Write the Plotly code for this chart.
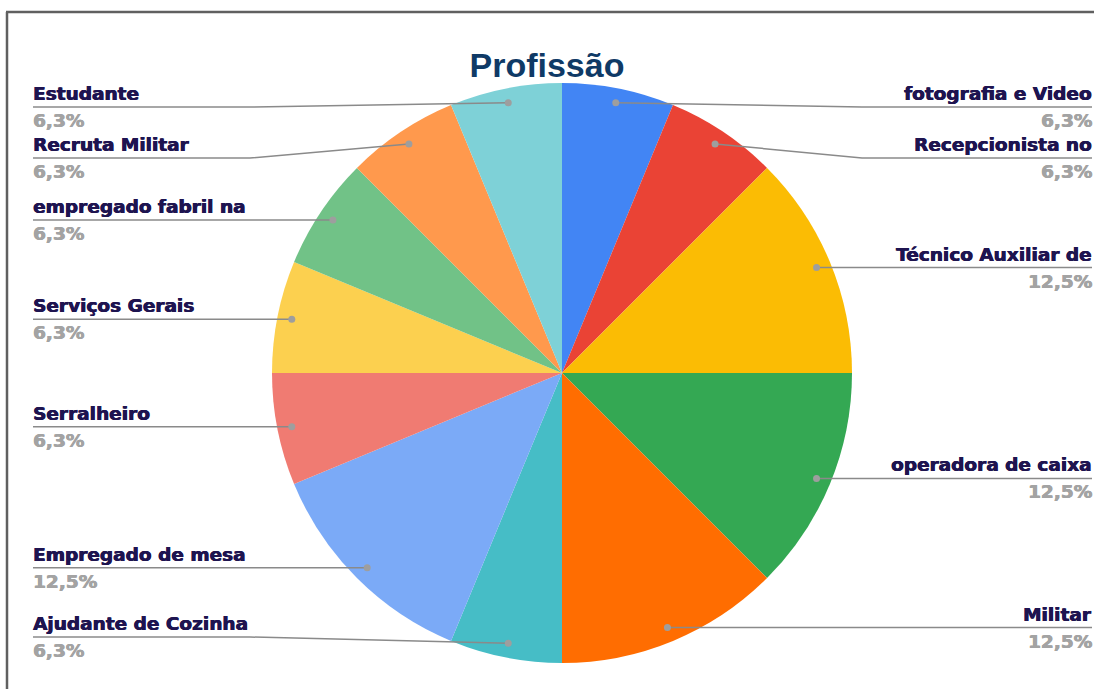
import math

import plotly.graph_objects as go

# data
labels = [
    "fotografia e Video", "Recepcionista no", "Técnico Auxiliar de",
    "operadora de caixa", "Militar", "Ajudante de Cozinha",
    "Empregado de mesa", "Serralheiro", "Serviços Gerais",
    "empregado fabril na", "Recruta Militar", "Estudante",
]
counts = [1, 1, 2, 2, 2, 1, 2, 1, 1, 1, 1, 1]
colors = [
    "#4285F4", "#EA4335", "#FBBC04", "#34A853", "#FF6D01", "#46BDC6",
    "#7BAAF7", "#F07B72", "#FCD04F", "#71C287", "#FF994D", "#7ED1D7",
]

W, H = 1094, 689
CX, CY, R = 562, 373, 290
LABEL_FONT = "DejaVu Sans"
LABEL_SIZE = 18.5
NAME_COLOR = "#1e1450"
PCT_COLOR = "#a3a3a3"
LINE_COLOR = "#8a8a8a"


def px(x):
    return x / W


def py(y):
    return 1 - y / H


def pct_text(v, total):
    p = math.floor(v / total * 1000 + 0.5) / 10
    return f"{p:.1f}".replace(".", ",") + "%"


def spread(items, gap=51, top=107, bottom=637):
    # items: list of [dot_y, idx]; returns dict idx -> line y
    items = sorted(items)
    ys = []
    for dy, _ in items:
        y = max(dy, top)
        if ys:
            y = max(y, ys[-1] + gap)
        ys.append(y)
    for i in range(len(ys) - 1, -1, -1):
        lim = bottom if i == len(ys) - 1 else ys[i + 1] - gap
        ys[i] = min(ys[i], lim)
    return {idx: y for (_, idx), y in zip(items, ys)}


def heavy(color):
    # thicken the bold glyphs a little, like the heavy face in the original
    return f"0.5px 0 0 {color}, -0.3px 0 0 {color}"


fig = go.Figure()
fig.add_trace(go.Pie(
    labels=labels, values=counts, sort=False, direction="clockwise", rotation=0,
    marker=dict(colors=colors, line=dict(width=0)),
    textinfo="none", hoverinfo="label+percent",
    domain=dict(x=[px(CX - R), px(CX + R)], y=[py(CY + R), py(CY - R)]),
))

total = sum(counts)
dots = []
cum = 0
for i, v in enumerate(counts):
    a = math.radians((cum + v / 2) / total * 360)
    cum += v
    dx = CX + 0.95 * R * math.sin(a)
    dy = CY - 0.95 * R * math.cos(a)
    dots.append((dx, dy, "right" if math.sin(a) > 0 else "left"))

left_y = spread([[d[1], i] for i, d in enumerate(dots) if d[2] == "left"])
right_y = spread([[d[1], i] for i, d in enumerate(dots) if d[2] == "right"])

shapes = []
annotations = []
for i, (dx, dy, side) in enumerate(dots):
    ly = left_y[i] if side == "left" else right_y[i]
    if side == "left":
        x_end, x_txt, elbow, anchor = 33, 31, CX - 312, "left"
    else:
        x_end, x_txt, elbow, anchor = 1092, 1094, CX + 300, "right"
    shapes.append(dict(
        type="path", xref="paper", yref="paper",
        path=f"M {px(x_end)},{py(ly)} L {px(elbow)},{py(ly)} L {px(dx)},{py(dy)}",
        line=dict(color=LINE_COLOR, width=1.5),
    ))
    shapes.append(dict(
        type="circle", xref="paper", yref="paper",
        x0=px(dx - 3.5), x1=px(dx + 3.5), y0=py(dy + 3.5), y1=py(dy - 3.5),
        fillcolor="#9e9e9e", line=dict(width=0),
    ))
    annotations.append(dict(
        text=f"<b>{labels[i]}</b>", xref="paper", yref="paper",
        x=px(x_txt), y=py(ly - 1), xanchor=anchor, yanchor="bottom",
        showarrow=False,
        font=dict(family=LABEL_FONT, size=LABEL_SIZE, color=NAME_COLOR,
                  shadow=heavy(NAME_COLOR)),
    ))
    annotations.append(dict(
        text=f"<b>{pct_text(counts[i], total)}</b>", xref="paper", yref="paper",
        x=px(x_txt), y=py(ly + 1), xanchor=anchor, yanchor="top",
        showarrow=False,
        font=dict(family=LABEL_FONT, size=LABEL_SIZE, color=PCT_COLOR,
                  shadow=heavy(PCT_COLOR)),
    ))

# frame lines of the screenshot
shapes.append(dict(type="line", xref="paper", yref="paper",
                   x0=px(6), x1=1, y0=py(12), y1=py(12),
                   line=dict(color="#606060", width=2.5)))
shapes.append(dict(type="line", xref="paper", yref="paper",
                   x0=px(7), x1=px(7), y0=py(12), y1=0,
                   line=dict(color="#606060", width=2.5)))

fig.update_layout(
    width=W, height=H,
    margin=dict(l=0, r=0, t=0, b=0),
    paper_bgcolor="white", plot_bgcolor="white",
    showlegend=False,
    title=dict(text="<b>Profissão</b>", x=0.5, xanchor="center",
               y=py(65), yanchor="middle",
               font=dict(family="Liberation Sans", size=34, color="#0f3a66")),
    shapes=shapes,
    annotations=annotations,
)

fig.write_html("out.html", config=dict(displayModeBar=False),
               post_script="document.body.style.margin='0';")
